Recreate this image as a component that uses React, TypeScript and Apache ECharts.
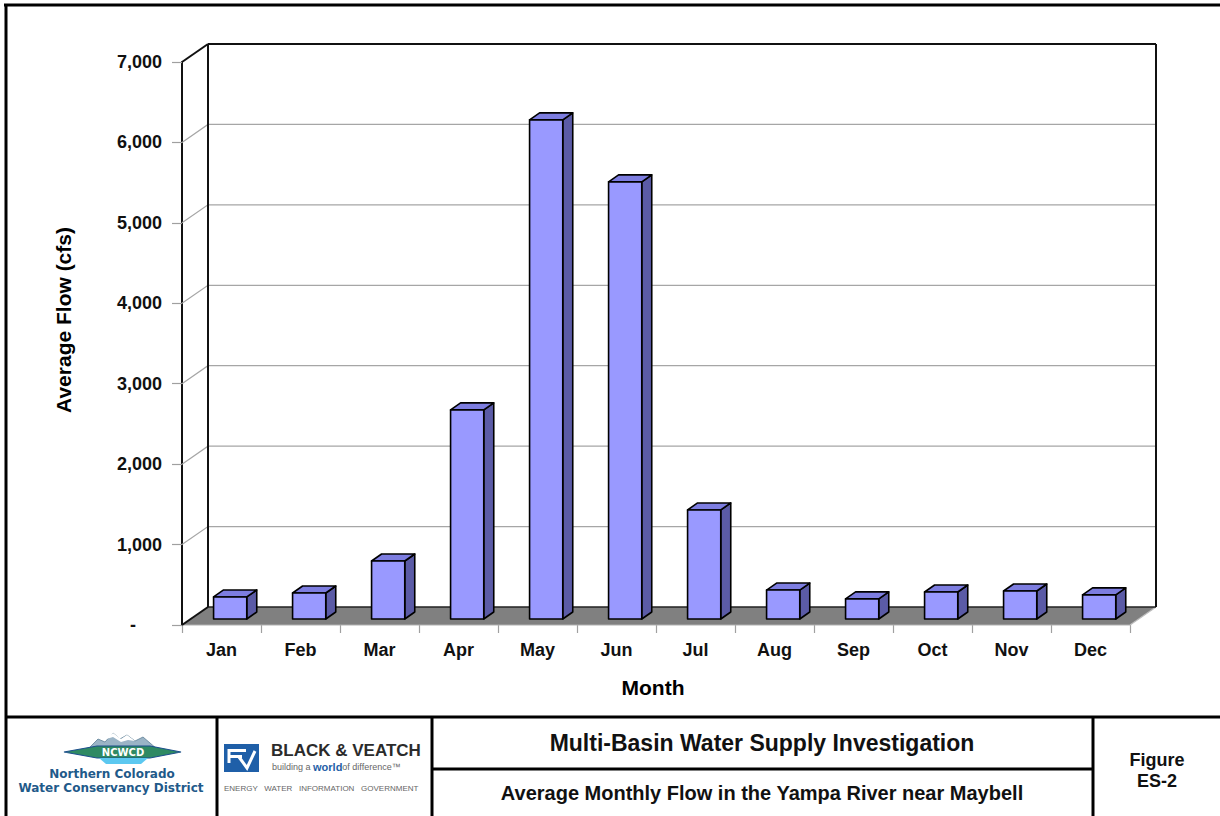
import React, { useEffect, useRef } from "react";
import * as echarts from "echarts";

const months = ["Jan", "Feb", "Mar", "Apr", "May", "Jun", "Jul", "Aug", "Sep", "Oct", "Nov", "Dec"];
const flows = [274, 323, 721, 2600, 6206, 5435, 1356, 360, 250, 336, 348, 300];
const yTicks = [0, 1000, 2000, 3000, 4000, 5000, 6000, 7000];
const yMax = 7000;
const yStep = 1000;

const FONT = "'Liberation Sans', Arial, Helvetica, sans-serif";
const DX = 26;
const DY = -18;

export default function App() {
  const ref = useRef<HTMLDivElement>(null);

  useEffect(() => {
    if (!ref.current) return;
    const chart = echarts.init(ref.current, null, { renderer: "svg" });

    const gridSeries: any = {
      type: "custom",
      z: 1,
      clip: false,
      silent: true,
      data: yTicks.filter((v) => v > 0 && v < yMax).map((v) => [0, v]),
      renderItem: (params: any, api: any) => {
        const cs = params.coordSys;
        const y = api.coord([0, api.value(1)])[1];
        const x0 = cs.x;
        const x1 = cs.x + cs.width;
        return {
          type: "polyline",
          shape: { points: [[x0, y], [x0 + DX, y + DY], [x1 + DX, y + DY]] },
          style: { stroke: "#a6a6a6", lineWidth: 1.2, fill: null },
        };
      },
    };

    const wallSeries: any = {
      type: "custom",
      z: 2,
      clip: false,
      silent: true,
      data: [[0, 0]],
      renderItem: (params: any, api: any) => {
        const cs = params.coordSys;
        const x0 = cs.x;
        const x1 = cs.x + cs.width;
        const yb = cs.y + cs.height;
        const yt = cs.y;
        const blk = { stroke: "#111", lineWidth: 2, fill: null };
        return {
          type: "group",
          children: [
            {
              type: "polygon",
              shape: { points: [[x0, yb], [x1, yb], [x1 + DX, yb + DY], [x0 + DX, yb + DY]] },
              style: { fill: "#808080", stroke: null },
            },
            { type: "line", shape: { x1: x1, y1: yb, x2: x1 + DX, y2: yb + DY }, style: { stroke: "#bdbdbd", lineWidth: 1.2 } },
            { type: "line", shape: { x1: x0, y1: yb, x2: x1, y2: yb }, style: { stroke: "#b0b0b0", lineWidth: 1.2 } },
            { type: "line", shape: { x1: x0 + DX, y1: yb + DY, x2: x1 + DX, y2: yb + DY }, style: { stroke: "#222", lineWidth: 1.5 } },
            { type: "line", shape: { x1: x0, y1: yb, x2: x0 + DX, y2: yb + DY }, style: blk },
            { type: "line", shape: { x1: x0 + DX, y1: yt + DY, x2: x0 + DX, y2: yb + DY }, style: blk },
            { type: "line", shape: { x1: x0, y1: yt, x2: x0 + DX, y2: yt + DY }, style: blk },
            { type: "line", shape: { x1: x0 + DX, y1: yt + DY, x2: x1 + DX, y2: yt + DY }, style: blk },
            { type: "line", shape: { x1: x1 + DX, y1: yt + DY, x2: x1 + DX, y2: yb + DY }, style: blk },
          ],
        };
      },
    };

    const barSeries: any = {
      type: "custom",
      name: "Average Flow (cfs)",
      z: 5,
      clip: false,
      data: flows.map((v, i) => [i, v]),
      renderItem: (params: any, api: any) => {
        const i = api.value(0);
        const v = api.value(1);
        const base = api.coord([i, 0]);
        const top = api.coord([i, v]);
        const band = api.size([1, 0])[0];
        const bw = band * 0.42;
        const cx = base[0] + DX / 3;
        const yb = base[1] + DY / 3;
        const yt = top[1] + DY / 3;
        const L = cx - bw / 2;
        const R = cx + bw / 2;
        const dx = 10;
        const dy = -7;
        const st = { stroke: "#000", lineWidth: 1.6, lineJoin: "round" };
        return {
          type: "group",
          children: [
            {
              type: "polygon",
              shape: { points: [[R, yt], [R + dx, yt + dy], [R + dx, yb + dy], [R, yb]] },
              style: { ...st, fill: "#5b5ba6" },
            },
            {
              type: "polygon",
              shape: { points: [[L, yt], [L + dx, yt + dy], [R + dx, yt + dy], [R, yt]] },
              style: { ...st, fill: "#7d7de0" },
            },
            {
              type: "rect",
              shape: { x: L, y: yt, width: bw, height: yb - yt },
              style: { ...st, fill: "#9999ff" },
            },
          ],
        };
      },
    };

    const thick = { stroke: "#000", lineWidth: 3 };
    const LOGO_FONT = "'DejaVu Sans', sans-serif";

    const graphic: any[] = [
      // outer frame
      { type: "line", shape: { x1: 4, y1: 5, x2: 1220, y2: 5 }, style: thick },
      { type: "line", shape: { x1: 6, y1: 4, x2: 6, y2: 816 }, style: thick },
      // title block
      { type: "line", shape: { x1: 5, y1: 717, x2: 1220, y2: 717 }, style: thick },
      { type: "line", shape: { x1: 217, y1: 717, x2: 217, y2: 816 }, style: thick },
      { type: "line", shape: { x1: 432, y1: 717, x2: 432, y2: 816 }, style: thick },
      { type: "line", shape: { x1: 1093, y1: 717, x2: 1093, y2: 816 }, style: thick },
      { type: "line", shape: { x1: 432, y1: 769, x2: 1093, y2: 769 }, style: thick },
      // axis titles
      {
        type: "text",
        x: 63,
        y: 320,
        rotation: Math.PI / 2,
        style: { text: "Average Flow (cfs)", fontFamily: FONT, fontWeight: "bold", fontSize: 21, fill: "#000", align: "center", verticalAlign: "middle" },
      },
      {
        type: "text",
        x: 653,
        y: 687,
        style: { text: "Month", fontFamily: FONT, fontWeight: "bold", fontSize: 21, fill: "#000", align: "center", verticalAlign: "middle" },
      },
      // title block texts
      {
        type: "text",
        x: 762,
        y: 743,
        style: { text: "Multi-Basin Water Supply Investigation", fontFamily: FONT, fontWeight: "bold", fontSize: 23, fill: "#111", align: "center", verticalAlign: "middle" },
      },
      {
        type: "text",
        x: 762,
        y: 793,
        style: { text: "Average Monthly Flow in the Yampa River near Maybell", fontFamily: FONT, fontWeight: "bold", fontSize: 20, fill: "#111", align: "center", verticalAlign: "middle" },
      },
      {
        type: "text",
        x: 1157,
        y: 760,
        style: { text: "Figure", fontFamily: FONT, fontWeight: "bold", fontSize: 18, fill: "#111", align: "center", verticalAlign: "middle" },
      },
      {
        type: "text",
        x: 1157,
        y: 781,
        style: { text: "ES-2", fontFamily: FONT, fontWeight: "bold", fontSize: 18, fill: "#111", align: "center", verticalAlign: "middle" },
      },
      // NCWCD logo
      {
        type: "polygon",
        shape: { points: [[88, 749], [98, 739], [105, 742], [113, 733], [120, 739], [127, 735], [135, 741], [143, 737], [157, 749]] },
        style: { fill: "#9bb4c6", stroke: "#5d7f95", lineWidth: 0.8 },
      },
      {
        type: "polygon",
        shape: { points: [[103, 740], [113, 733], [121, 739], [127, 735], [135, 741], [128, 740], [121, 742], [113, 737]] },
        style: { fill: "#ffffff", stroke: null },
      },
      {
        type: "polygon",
        shape: { points: [[64, 752], [97, 746], [150, 746], [181, 752], [150, 758], [97, 758]] },
        style: { fill: "#2f8a63", stroke: "#1d4f8c", lineWidth: 1.2 },
      },
      {
        type: "polygon",
        shape: { points: [[99, 758], [148, 758], [141, 764], [106, 764]] },
        style: { fill: "#5cc8f0", stroke: null },
      },
      {
        type: "text",
        x: 123,
        y: 752,
        style: { text: "NCWCD", fontFamily: LOGO_FONT, fontWeight: "bold", fontSize: 10, fill: "#ffffff", align: "center", verticalAlign: "middle" },
      },
      {
        type: "text",
        x: 112,
        y: 774,
        style: { text: "Northern Colorado", fontFamily: LOGO_FONT, fontWeight: "bold", fontSize: 12, fill: "#1f5a8a", align: "center", verticalAlign: "middle" },
      },
      {
        type: "text",
        x: 111,
        y: 788,
        style: { text: "Water Conservancy District", fontFamily: LOGO_FONT, fontWeight: "bold", fontSize: 12, fill: "#1f5a8a", align: "center", verticalAlign: "middle" },
      },
      // Black & Veatch logo
      { type: "rect", shape: { x: 224, y: 744, width: 35, height: 28 }, style: { fill: "#1f5fa8" } },
      { type: "rect", shape: { x: 229, y: 749, width: 17, height: 3 }, style: { fill: "#fff" } },
      { type: "rect", shape: { x: 229, y: 755, width: 13, height: 3 }, style: { fill: "#fff" } },
      { type: "polyline", shape: { points: [[229, 749], [229, 763]] }, style: { stroke: "#fff", lineWidth: 3 } },
      { type: "polyline", shape: { points: [[239, 757], [247, 768], [255, 751]] }, style: { stroke: "#fff", lineWidth: 3, fill: null } },
      {
        type: "text",
        x: 271,
        y: 750,
        style: { text: "BLACK & VEATCH", fontFamily: FONT, fontWeight: "bold", fontSize: 17, fill: "#2b2b2b", align: "left", verticalAlign: "middle" },
      },
      {
        type: "text",
        x: 272,
        y: 767,
        style: {
          text: "{a|building a }{b|world}{a|of difference™}",
          fontFamily: FONT,
          align: "left",
          verticalAlign: "middle",
          rich: {
            a: { fontFamily: FONT, fontSize: 9, fill: "#666" },
            b: { fontFamily: FONT, fontSize: 11, fontWeight: "bold", fill: "#1f5fa8" },
          },
        },
      },
      {
        type: "text",
        x: 224,
        y: 788,
        style: { text: "ENERGY   WATER   INFORMATION   GOVERNMENT", fontFamily: FONT, fontSize: 8, fill: "#666", align: "left", verticalAlign: "middle" },
      },
    ];

    const option: any = {
      animation: false,
      backgroundColor: "#ffffff",
      grid: { left: 182, right: 90, top: 62, bottom: 191, containLabel: false },
      xAxis: {
        type: "category",
        data: months,
        boundaryGap: true,
        axisLine: { show: false },
        axisTick: { show: true, length: 8, lineStyle: { color: "#a0a0a0", width: 1.2 } },
        axisLabel: { margin: 16, fontFamily: FONT, fontWeight: "bold", fontSize: 18, color: "#111" },
        splitLine: { show: false },
      },
      yAxis: {
        type: "value",
        min: 0,
        max: yMax,
        interval: yStep,
        axisLine: { show: true, lineStyle: { color: "#111", width: 2 } },
        axisTick: { show: true, length: 10, lineStyle: { color: "#a0a0a0", width: 1.2 } },
        axisLabel: {
          margin: 20,
          fontFamily: FONT,
          fontWeight: "bold",
          fontSize: 18,
          color: "#111",
          formatter: (v: number) => (v === 0 ? "{d|-}" : v.toLocaleString("en-US")),
          rich: { d: { fontFamily: FONT, fontWeight: "bold", fontSize: 18, color: "#111", padding: [0, 26, 0, 0] } },
        },
        splitLine: { show: false },
      },
      series: [gridSeries, wallSeries, barSeries],
      graphic,
    };

    chart.setOption(option);
    return () => chart.dispose();
  }, []);

  return (
    <div
      ref={ref}
      style={{ position: "fixed", left: 0, top: 0, width: 1220, height: 816, background: "#fff" }}
    />
  );
}
